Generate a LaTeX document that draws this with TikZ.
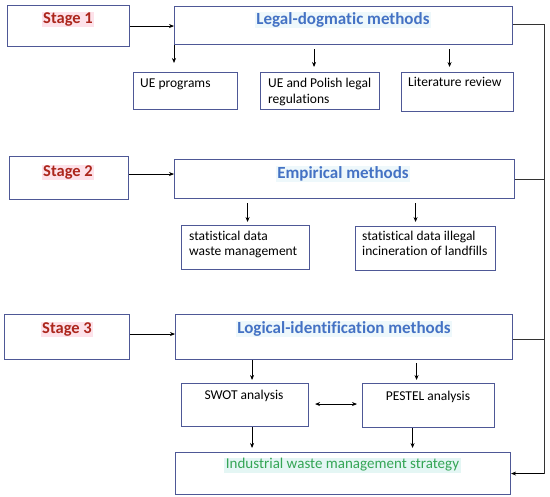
\documentclass[tikz,border=0pt]{standalone}
\usepackage{fontspec}
\setmainfont[Ligatures={NoCommon}]{Carlito}
\usetikzlibrary{arrows.meta}
\definecolor{boxc}{RGB}{78,88,150}
\definecolor{stagec}{RGB}{172,38,28}
\definecolor{stagebg}{RGB}{253,226,234}
\definecolor{titlec}{RGB}{68,114,196}
\definecolor{titlebg}{RGB}{238,248,251}
\definecolor{greenc}{RGB}{52,165,85}
\definecolor{greenbg}{RGB}{228,246,244}
\tikzset{
  box/.style={draw=boxc, line width=1.1pt, rectangle, inner sep=0pt, anchor=north west},
  arr/.style={-{Stealth[length=5pt,width=4pt]}, line width=0.7pt, black},
  plain/.style={line width=0.7pt, black!80},
  stagetxt/.style={anchor=base, font=\fontsize{16.5}{20}\selectfont\bfseries, text=stagec, fill=stagebg, inner xsep=1.5pt, inner ysep=1pt},
  titletxt/.style={anchor=base, font=\fontsize{17}{20}\selectfont\bfseries, text=titlec, fill=titlebg, inner xsep=1.5pt, inner ysep=1pt},
  smalltxt/.style={anchor=north west, font=\fontsize{13.5}{16.8}\selectfont, align=left, inner sep=0pt},
  ctrtxt/.style={anchor=base, font=\fontsize{13.5}{16}\selectfont, inner sep=0pt},
}
\begin{document}
\begin{tikzpicture}[x=1pt,y=-1pt]
\useasboundingbox (0,0) rectangle (550,497);
% boxes
\node[box, minimum width=122pt, minimum height=41pt] (s1) at (7,5) {};
\node[box, minimum width=338pt, minimum height=38pt] (ld) at (174,6) {};
\node[box, minimum width=104pt, minimum height=37pt] (ue) at (133,72) {};
\node[box, minimum width=119pt, minimum height=37pt] (pl) at (260,72) {};
\node[box, minimum width=112pt, minimum height=39pt] (lr) at (401,72) {};

\node[box, minimum width=119pt, minimum height=43pt] (s2) at (9,156) {};
\node[box, minimum width=340pt, minimum height=39pt] (emp) at (174,159) {};
\node[box, minimum width=128pt, minimum height=44pt] (sd1) at (181,225) {};
\node[box, minimum width=140pt, minimum height=44pt] (sd2) at (355,226) {};

\node[box, minimum width=125pt, minimum height=45pt] (s3) at (4,314) {};
\node[box, minimum width=337pt, minimum height=45pt] (li) at (175,314) {};
\node[box, minimum width=127pt, minimum height=43pt] (swot) at (181,383) {};
\node[box, minimum width=132pt, minimum height=44pt] (pest) at (362,383) {};
\node[box, minimum width=335pt, minimum height=42pt] (ind) at (175,452) {};

% texts
\node[stagetxt] (t1) at (68,23.5) {Stage 1};
\node[stagetxt] (t2) at (68,176.5) {Stage 2};
\node[stagetxt] (t3) at (67,333.5) {Stage 3};
\node[titletxt] (tld) at (343,24.5) {Legal-dogmatic methods};
\node[titletxt] (temp) at (343,178.5) {Empirical methods};
\node[titletxt] (tli) at (344,333.5) {Logical-identification methods};
\node[smalltxt] (tue) at (140,78.5) {UE programs};
\node[smalltxt] (tpl) at (268,77.5) {UE and Polish legal\\regulations};
\node[smalltxt] (tlr) at (408,77.5) {Literature review};
\node[smalltxt, font=\fontsize{13.5}{14.6}\selectfont] (tsd1) at (189,231) {statistical data\\waste management};
\node[smalltxt, font=\fontsize{13.5}{14.6}\selectfont] (tsd2) at (362,231) {statistical data illegal\\incineration of landfills};
\node[ctrtxt] (tswot) at (244,399.5) {SWOT analysis};
\node[ctrtxt] (tpest) at (428,400.5) {PESTEL analysis};
\node[anchor=base, font=\fontsize{15}{18}\selectfont, text=greenc, fill=greenbg, inner xsep=1.5pt, inner ysep=1pt] (tind) at (342.5,469) {Industrial waste management strategy};

% stage arrows
\draw[arr] (s1.east) -- (s1.east -| ld.west);
\draw[arr] ([yshift=4pt]s2.east) -- ([yshift=4pt]s2.east -| emp.west);
\draw[arr] ([yshift=3pt]s3.east) -- ([yshift=3pt]s3.east -| li.west);

% stage 1 down arrows
\draw[arr, shorten >=9pt] (ld.south west) -- (ld.south west |- ue.north);
\draw[arr, shorten <=4pt, shorten >=5pt] ([xshift=-6pt]pl.north |- ld.south) -- ([xshift=-6pt]pl.north);
\draw[arr, shorten <=4pt, shorten >=5pt] ([xshift=-8pt]lr.north |- ld.south) -- ([xshift=-8pt]lr.north);

% stage 2 down arrows
\draw[arr, shorten <=4pt, shorten >=3pt] ([xshift=2pt]sd1.north |- emp.south) -- ([xshift=2pt]sd1.north);
\draw[arr, shorten <=4pt, shorten >=4pt] ([xshift=-10pt]sd2.north |- emp.south) -- ([xshift=-10pt]sd2.north);

% stage 3 arrows
\draw[arr, shorten >=3pt] ([xshift=7pt]swot.north |- li.south) -- ([xshift=7pt]swot.north);
\draw[arr, shorten <=3pt, shorten >=3pt] ([xshift=-12pt]pest.north |- li.south) -- ([xshift=-12pt]pest.north);
\draw[{Stealth[length=5pt,width=4pt]}-{Stealth[length=5pt,width=4pt]}, line width=0.7pt, shorten <=6pt, shorten >=5pt] ([yshift=1pt]swot.east) -- ([yshift=1pt]swot.east -| pest.west);
\draw[arr, shorten >=4pt] ([xshift=7pt]swot.south) -- ([xshift=7pt]swot.south |- ind.north);
\draw[arr, shorten >=4pt] ([xshift=-16pt]pest.south) -- ([xshift=-16pt]pest.south |- ind.north);

% right feedback line
\coordinate (rt) at (544,0);
\draw[plain] ([yshift=1pt]ld.east) -- ([yshift=1pt]ld.east -| rt) -- (rt |- ind.east);
\draw[plain] (emp.east) -- (emp.east -| rt);
\draw[plain] ([yshift=-2pt]li.east) -- ([yshift=-2pt]li.east -| rt);
\draw[arr] (rt |- ind.east) -- (ind.east);
\end{tikzpicture}
\end{document}
